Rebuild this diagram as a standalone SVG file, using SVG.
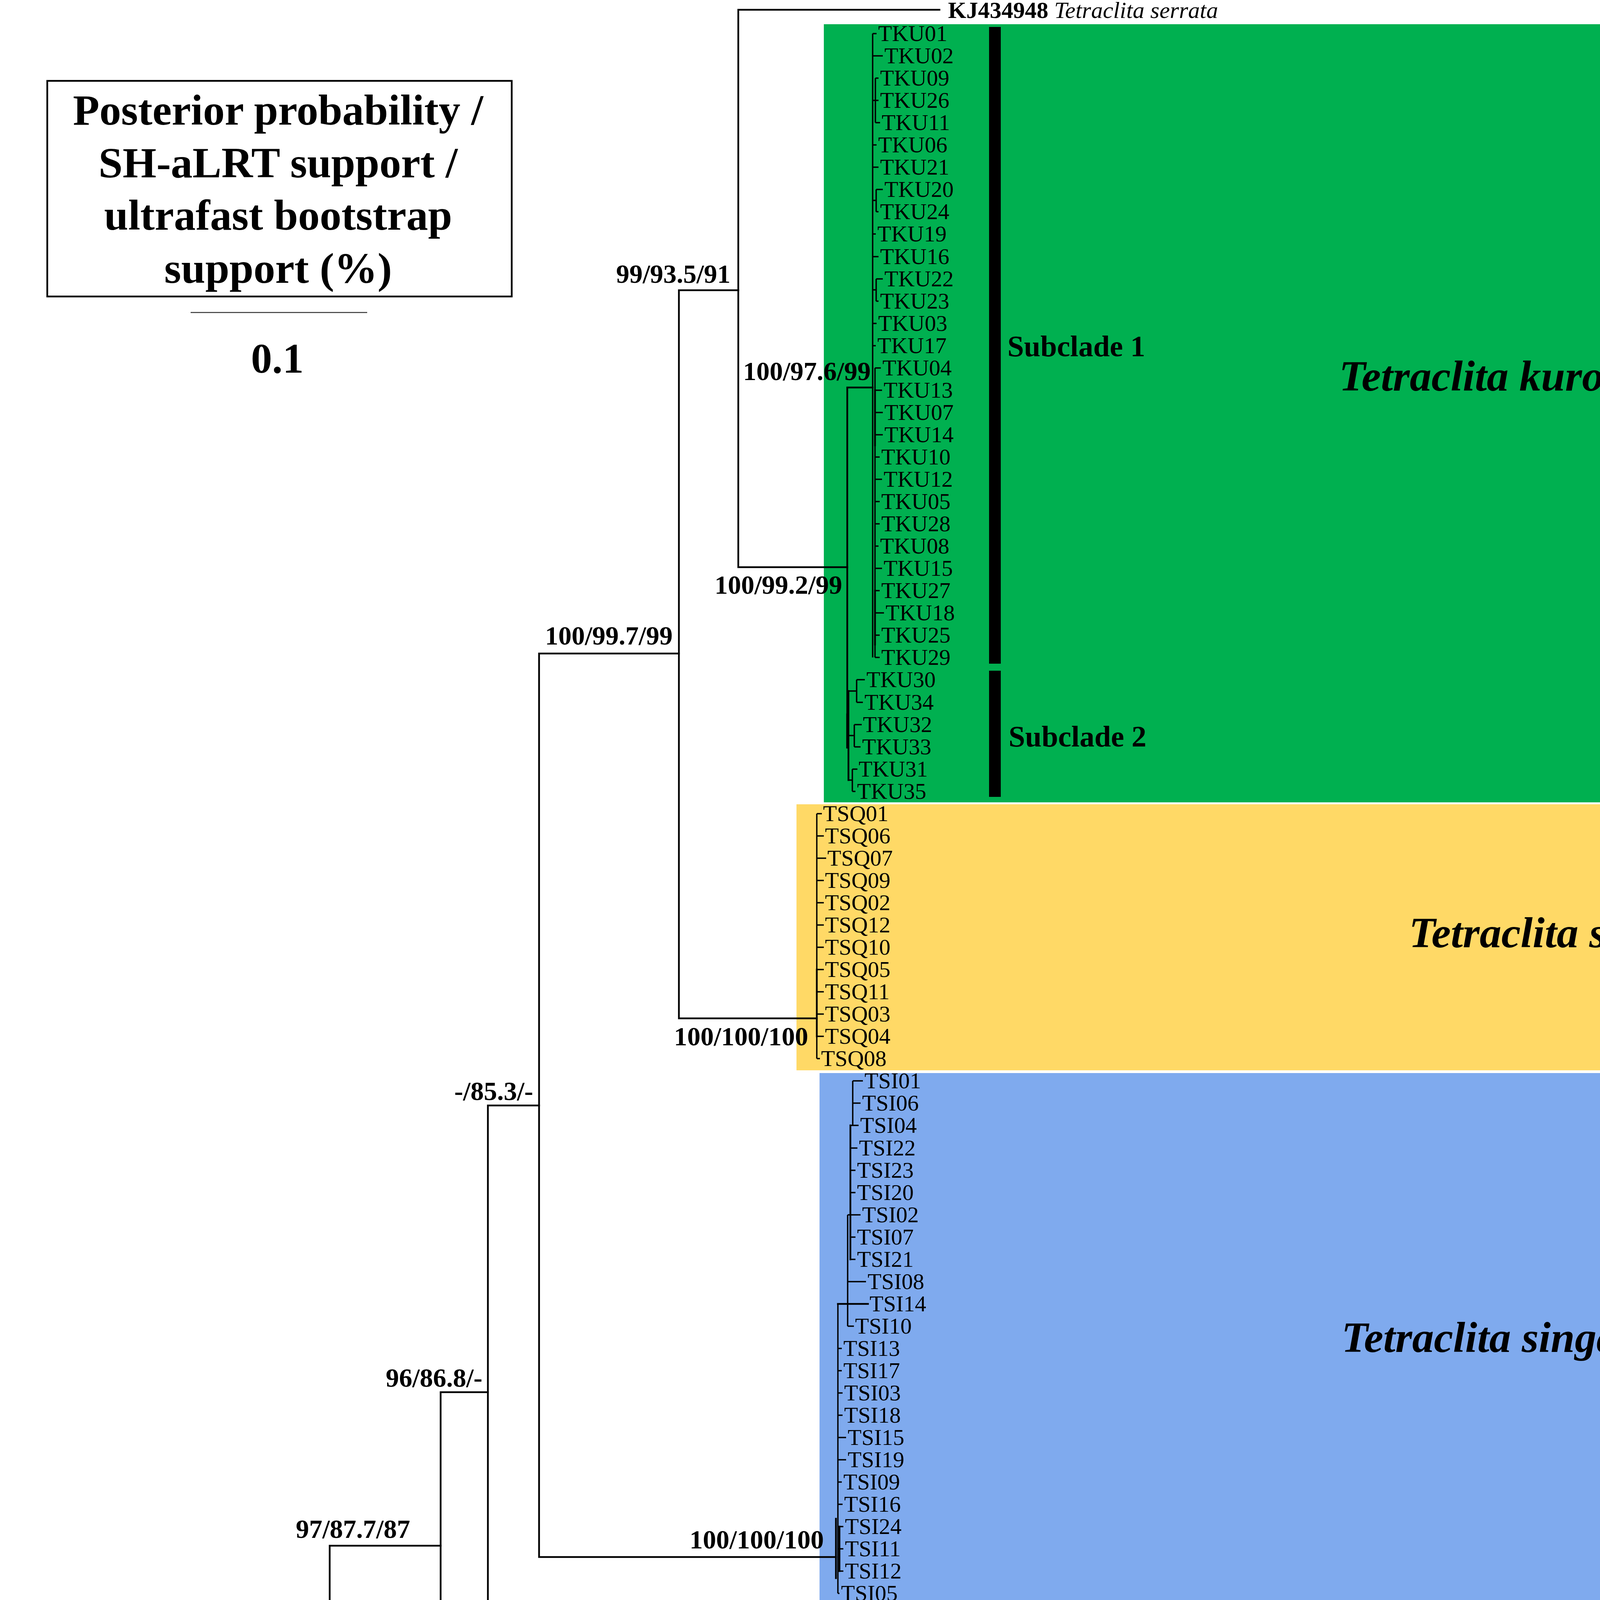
<svg xmlns="http://www.w3.org/2000/svg" width="4562" height="4632" viewBox="0 0 4562 4632">
<style>
.br{stroke:#000;stroke-width:4.5;fill:none;stroke-linecap:square}
.tk{stroke-width:7}
.tp{stroke:#000;stroke-width:3.5;fill:none}
text{font-family:"Liberation Serif","Times New Roman",serif;fill:#000}
.tip{font-size:58px}
.sup{font-size:68px;font-weight:bold}
.acc{font-size:60px}
.b{font-weight:bold}
.i{font-style:italic}
.lg{font-size:111px;font-weight:bold;text-anchor:middle}
.cl{font-size:111px;font-weight:bold;font-style:italic;text-anchor:end}
.sc{font-size:76px;font-weight:bold}
</style>
<rect x="0" y="0" width="4562" height="4632" fill="#fff"/>
<g id="clade-backgrounds">
<rect x="2109" y="62" width="2446" height="1992" fill="#00B050"/>
<rect x="2039" y="2059" width="2516" height="681" fill="#FFD966"/>
<rect x="2098" y="2747" width="2457" height="1369" fill="#7FAAEE"/>
</g>
<g id="legend">
<rect x="121" y="207" width="1189" height="552" fill="none" stroke="#000" stroke-width="4.5"/>
<text class="lg" x="712" y="319">Posterior probability /</text>
<text class="lg" x="712" y="454">SH-aLRT support /</text>
<text class="lg" x="712" y="588">ultrafast bootstrap</text>
<text class="lg" x="712" y="724">support (%)</text>
</g>
<g id="scale-bar">
<line x1="488" y1="800" x2="940" y2="800" stroke="#333" stroke-width="2.5"/>
<text x="710" y="954" font-size="108" font-weight="bold" text-anchor="middle">0.1</text>
</g>
<g id="connectors">
<path class="br" d="M9,4423V4587M9,4423H75M9,4587H2797"/>
<path class="br" d="M75,4310V4522M75,4522H1879M75,4310H373"/>
<path class="br" d="M373,4166V4452M373,4452H1286M373,4166H844"/>
<path class="br" d="M844,3957V4394M844,4394H1974M844,3957H1128"/>
<path class="br" d="M1128,3564V4331M1128,4331H1512M1128,3564H1249"/>
<path class="br" d="M1249,2830V4214M1249,4214H1349M1249,2830H1380"/>
<path class="br" d="M1349,4164V4253M1349,4164H1887M1349,4253H1982"/>
<path class="br" d="M1380,1673V3986M1380,3986H2140M1380,1673H1738"/>
<path class="br" d="M1738,743V2607M1738,2607H2091M1738,743H1890"/>
<path class="br" d="M1890,25V1452M1890,25H2405M1890,1452H2169"/>
<path class="br" d="M2169,992V1914M2169,992H2234"/>
<path class="br tk" d="M2170,1830V1912"/>
<path class="tp" d="M2234,86V1683"/>
<path class="tp" d="M2234,86H2244M2234,143H2260M2234,371H2244M2234,428H2249M2234,599H2242M2234,657H2249M2234,828H2244M2234,885H2242"/>
<path class="tp" d="M2241,200V314M2234,257H2241M2241,200H2249M2241,257H2249M2241,314H2253"/>
<path class="tp" d="M2243,485V542M2234,513H2243M2243,485H2260M2243,542H2249"/>
<path class="tp" d="M2243,714V771M2234,742H2243M2243,714H2260M2243,771H2249"/>
<path class="tp" d="M2240,942V1683M2240,942H2255M2240,999H2258M2240,1056H2260M2240,1113H2260M2240,1170H2252M2240,1227H2258M2240,1284H2252M2240,1341H2252M2240,1398H2249M2240,1455H2258M2240,1512H2252M2240,1569H2263M2240,1626H2252M2240,1683H2252"/>
<path class="br" d="M2240,999V1140M2240,1512V1650" stroke-width="6"/>
<path class="br" d="M2172,1769V1997" stroke-width="6"/>
<path class="tp" d="M2193,1740V1798M2172,1769H2193M2193,1740H2214M2193,1798H2209"/>
<path class="tp" d="M2187,1855V1912M2172,1883H2187M2187,1855H2206M2187,1912H2203"/>
<path class="tp" d="M2182,1969V2026M2172,1997H2182M2182,1969H2195M2182,2026H2190"/>
<path class="tp" d="M2091,2083V2710"/>
<path class="br" d="M2091,2482V2653" stroke-width="6"/>
<path class="tp" d="M2091,2083H2104M2091,2140H2109M2091,2197H2115M2091,2254H2109M2091,2311H2109M2091,2368H2109M2091,2425H2109M2091,2482H2109M2091,2539H2109M2091,2596H2109M2091,2653H2109M2091,2710H2099"/>
<path class="br" d="M2140,3888V4040" stroke-width="6"/>
<path class="tp" d="M2145,3338V4079"/>
<path class="br" d="M2145,3338H2222" stroke-width="5"/>
<path class="tp" d="M2170,3110V3395M2170,3281H2217M2170,3395H2186"/>
<path class="br" d="M2177,2881V3224" stroke-width="6"/>
<path class="tp" d="M2170,3110H2177M2183,2767V2881M2177,2881H2183M2183,2767H2209M2183,2824H2203M2177,2881H2198M2177,2939H2195M2177,2996H2190M2177,3053H2190M2177,3110H2203M2177,3167H2190M2177,3224H2190"/>
<path class="tp" d="M2145,3452H2155M2145,3509H2155M2145,3566H2157M2145,3623H2157M2145,3680H2166M2145,3737H2166M2145,3794H2155M2145,3851H2157M2145,3908H2159M2145,3965H2159M2145,4022H2159M2145,4079H2149"/>
<path class="br" d="M2149,3908V4022" stroke-width="5"/>
</g>
<g id="support-values">
<text class="sup" x="1870" y="724" text-anchor="end">99/93.5/91</text>
<text class="sup" x="2229" y="973" text-anchor="end">100/97.6/99</text>
<text class="sup" x="2156" y="1520" text-anchor="end">100/99.2/99</text>
<text class="sup" x="1722" y="1650" text-anchor="end">100/99.7/99</text>
<text class="sup" x="2069" y="2676" text-anchor="end">100/100/100</text>
<text class="sup" x="1365" y="2816" text-anchor="end">-/85.3/-</text>
<text class="sup" x="1235" y="3550" text-anchor="end">96/86.8/-</text>
<text class="sup" x="2109" y="3964" text-anchor="end">100/100/100</text>
<text class="sup" x="1050" y="3937" text-anchor="end">97/87.7/87</text>
<text class="sup" x="744" y="4147" text-anchor="end">100/97/98</text>
<text class="sup" x="325" y="4292" text-anchor="end">98/-/94</text>
</g>
<g id="outgroups">
<g id="KJ434948"><text class="acc" x="2427" y="46"><tspan class="b">KJ434948</tspan><tspan class="i"> Tetraclita serrata</tspan></text></g>
<g id="AB126701"><text class="acc" x="1904" y="4185"><tspan class="b">AB126701</tspan><tspan class="i"> Tetraclita japonica</tspan></text></g>
<g id="KY865100"><text class="acc" x="1996" y="4274"><tspan class="b">KY865100</tspan><tspan class="i"> Tetraclita rufotincta</tspan></text></g>
<g id="KY865099"><text class="acc" x="1522" y="4352"><tspan class="b">KY865099</tspan><tspan class="i"> Tesseropora rosea</tspan></text></g>
<g id="KJ754822"><text class="acc" x="1983" y="4415"><tspan class="b">KJ754822</tspan><tspan class="i"> Tetraclitella divisa</tspan></text></g>
<g id="KM660676"><text class="acc" x="1297" y="4473"><tspan class="b">KM660676</tspan><tspan class="i"> Balanus balanus</tspan></text></g>
<g id="KP294312"><text class="acc" x="1891" y="4543"><tspan class="b">KP294312</tspan><tspan class="i"> Chthamalus antennatus</tspan></text></g>
<g id="AY456188"><text class="acc" x="2800" y="4608"><tspan class="b">AY456188</tspan><tspan class="i"> Pollicipes polymerus</tspan></text></g>
</g>
<g id="tku-tips">
<g id="TKU01"><text class="tip" x="2248" y="105">TKU01</text></g>
<g id="TKU02"><text class="tip" x="2264" y="162">TKU02</text></g>
<g id="TKU09"><text class="tip" x="2253" y="219">TKU09</text></g>
<g id="TKU26"><text class="tip" x="2253" y="276">TKU26</text></g>
<g id="TKU11"><text class="tip" x="2257" y="333">TKU11</text></g>
<g id="TKU06"><text class="tip" x="2248" y="390">TKU06</text></g>
<g id="TKU21"><text class="tip" x="2253" y="447">TKU21</text></g>
<g id="TKU20"><text class="tip" x="2264" y="504">TKU20</text></g>
<g id="TKU24"><text class="tip" x="2253" y="561">TKU24</text></g>
<g id="TKU19"><text class="tip" x="2246" y="618">TKU19</text></g>
<g id="TKU16"><text class="tip" x="2253" y="676">TKU16</text></g>
<g id="TKU22"><text class="tip" x="2264" y="733">TKU22</text></g>
<g id="TKU23"><text class="tip" x="2253" y="790">TKU23</text></g>
<g id="TKU03"><text class="tip" x="2248" y="847">TKU03</text></g>
<g id="TKU17"><text class="tip" x="2246" y="904">TKU17</text></g>
<g id="TKU04"><text class="tip" x="2259" y="961">TKU04</text></g>
<g id="TKU13"><text class="tip" x="2262" y="1018">TKU13</text></g>
<g id="TKU07"><text class="tip" x="2264" y="1075">TKU07</text></g>
<g id="TKU14"><text class="tip" x="2264" y="1132">TKU14</text></g>
<g id="TKU10"><text class="tip" x="2256" y="1189">TKU10</text></g>
<g id="TKU12"><text class="tip" x="2262" y="1246">TKU12</text></g>
<g id="TKU05"><text class="tip" x="2256" y="1303">TKU05</text></g>
<g id="TKU28"><text class="tip" x="2256" y="1360">TKU28</text></g>
<g id="TKU08"><text class="tip" x="2253" y="1417">TKU08</text></g>
<g id="TKU15"><text class="tip" x="2262" y="1474">TKU15</text></g>
<g id="TKU27"><text class="tip" x="2256" y="1531">TKU27</text></g>
<g id="TKU18"><text class="tip" x="2267" y="1588">TKU18</text></g>
<g id="TKU25"><text class="tip" x="2256" y="1645">TKU25</text></g>
<g id="TKU29"><text class="tip" x="2256" y="1702">TKU29</text></g>
<g id="TKU30"><text class="tip" x="2218" y="1759">TKU30</text></g>
<g id="TKU34"><text class="tip" x="2213" y="1817">TKU34</text></g>
<g id="TKU32"><text class="tip" x="2209" y="1874">TKU32</text></g>
<g id="TKU33"><text class="tip" x="2207" y="1931">TKU33</text></g>
<g id="TKU31"><text class="tip" x="2198" y="1988">TKU31</text></g>
<g id="TKU35"><text class="tip" x="2194" y="2045">TKU35</text></g>
</g>
<g id="tsq-tips">
<g id="TSQ01"><text class="tip" x="2107" y="2102">TSQ01</text></g>
<g id="TSQ06"><text class="tip" x="2112" y="2159">TSQ06</text></g>
<g id="TSQ07"><text class="tip" x="2118" y="2216">TSQ07</text></g>
<g id="TSQ09"><text class="tip" x="2112" y="2273">TSQ09</text></g>
<g id="TSQ02"><text class="tip" x="2112" y="2330">TSQ02</text></g>
<g id="TSQ12"><text class="tip" x="2112" y="2387">TSQ12</text></g>
<g id="TSQ10"><text class="tip" x="2112" y="2444">TSQ10</text></g>
<g id="TSQ05"><text class="tip" x="2112" y="2501">TSQ05</text></g>
<g id="TSQ11"><text class="tip" x="2112" y="2558">TSQ11</text></g>
<g id="TSQ03"><text class="tip" x="2112" y="2615">TSQ03</text></g>
<g id="TSQ04"><text class="tip" x="2112" y="2672">TSQ04</text></g>
<g id="TSQ08"><text class="tip" x="2102" y="2729">TSQ08</text></g>
</g>
<g id="tsi-tips">
<g id="TSI01"><text class="tip" x="2213" y="2786">TSI01</text></g>
<g id="TSI06"><text class="tip" x="2207" y="2843">TSI06</text></g>
<g id="TSI04"><text class="tip" x="2202" y="2900">TSI04</text></g>
<g id="TSI22"><text class="tip" x="2199" y="2958">TSI22</text></g>
<g id="TSI23"><text class="tip" x="2194" y="3015">TSI23</text></g>
<g id="TSI20"><text class="tip" x="2194" y="3072">TSI20</text></g>
<g id="TSI02"><text class="tip" x="2207" y="3129">TSI02</text></g>
<g id="TSI07"><text class="tip" x="2194" y="3186">TSI07</text></g>
<g id="TSI21"><text class="tip" x="2194" y="3243">TSI21</text></g>
<g id="TSI08"><text class="tip" x="2221" y="3300">TSI08</text></g>
<g id="TSI14"><text class="tip" x="2226" y="3357">TSI14</text></g>
<g id="TSI10"><text class="tip" x="2189" y="3414">TSI10</text></g>
<g id="TSI13"><text class="tip" x="2159" y="3471">TSI13</text></g>
<g id="TSI17"><text class="tip" x="2159" y="3528">TSI17</text></g>
<g id="TSI03"><text class="tip" x="2161" y="3585">TSI03</text></g>
<g id="TSI18"><text class="tip" x="2161" y="3642">TSI18</text></g>
<g id="TSI15"><text class="tip" x="2170" y="3699">TSI15</text></g>
<g id="TSI19"><text class="tip" x="2170" y="3756">TSI19</text></g>
<g id="TSI09"><text class="tip" x="2159" y="3813">TSI09</text></g>
<g id="TSI16"><text class="tip" x="2161" y="3870">TSI16</text></g>
<g id="TSI24"><text class="tip" x="2163" y="3927">TSI24</text></g>
<g id="TSI11"><text class="tip" x="2163" y="3984">TSI11</text></g>
<g id="TSI12"><text class="tip" x="2163" y="4041">TSI12</text></g>
<g id="TSI05"><text class="tip" x="2153" y="4098">TSI05</text></g>
</g>
<g id="subclades">
<rect x="2532" y="69" width="30" height="1630" fill="#000"/>
<rect x="2532" y="1717" width="30" height="323" fill="#000"/>
<text class="sc" x="2579" y="912">Subclade 1</text>
<text class="sc" x="2582" y="1911">Subclade 2</text>
</g>
<g id="species-labels">
<text class="cl" x="4525" y="1000">Tetraclita kuroshioensis</text>
<text class="cl" x="4525" y="2425">Tetraclita squamosa</text>
<text class="cl" x="4525" y="3461">Tetraclita singaporensis</text>
</g>
</svg>
